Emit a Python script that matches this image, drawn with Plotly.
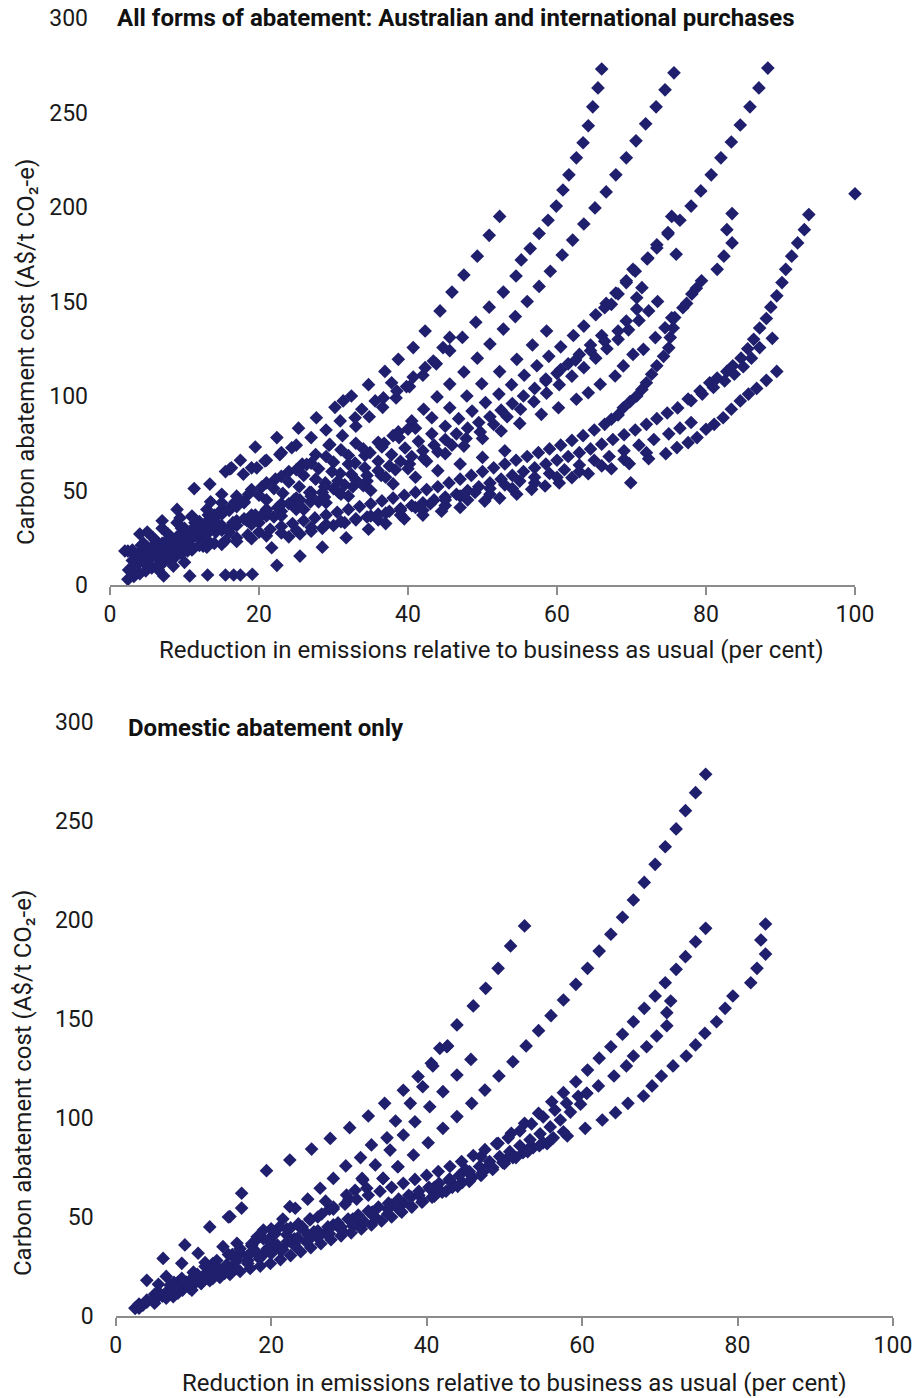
import plotly.graph_objects as go

# ---------------- TOP PANEL: all forms of abatement ----------------
top_A = [(2.4,18),(4.2,21),(6.0,24),(7.8,27),(9.6,30),(11.4,33),(13.2,37),(15.0,40),(16.8,44),(18.6,48),
         (20.4,52),(22.2,56),(24.0,60),(25.8,64),(27.6,69),(29.4,74),(31.2,79),(33.0,84),(34.8,89),(36.6,94),
         (38.4,99),(40.2,105),(42.0,111),(43.8,117),(45.6,124),(47.3,131),(49.1,139),(50.9,147),(52.8,155),
         (54.5,163.5),(55.2,172),(56.4,178),(57.6,186),(58.8,193),(59.9,200.5),(60.8,209),(61.6,217),(62.6,226),
         (63.5,234),(64.2,243),(64.8,253),(65.5,263),(66.0,273)]
top_A2 = [(19,62),(21,66),(23,70),(25,74),(27,78),(29,82),(30.9,86.8),(32.9,88.5),(33.8,93),(35.6,97.4),
          (36.7,99),(37.8,107),(38.5,102.6),(39.8,105),(40.7,110),(42.3,115),(43.4,118.5),(44.7,125.6),(45.6,131)]
top_B = [(5,28),(7,34),(9,40),(11.3,51),(13.4,53.4),(15.5,60),(17.5,66),(19.5,73),(22.4,78),(25.3,83),
         (27.7,88.5),(30.2,94),(32.4,100),(34.7,106),(36.9,113),(38.7,119.4),(40.7,125.6),(42.3,134.4),
         (44.3,145),(45.9,155),(47.5,164),(49.3,174),(50.9,185),(52.3,195)]
top_C = [(4,17),(6,19),(8,21),(10,23),(12.1,25.5),(14.2,28),(16.3,31),(18.4,34),(20.5,37.5),(22.6,41),
         (24.7,45),(26.8,49),(28.9,54),(30.9,59),(32.9,64.5),(34.9,70),(36.8,75),(38.7,81),(40.5,86.8),
         (42.1,93),(43.9,99.5),(45.6,106.3),(47.5,112.7),(49.3,120),(51,127.5),(52.8,135.4),(54.4,142),
         (56,150),(57.6,158),(59.1,166),(60.7,174.6),(62.1,182.5),(63.6,191),(65.1,199.5),(66.6,208),
         (67.9,217),(69.3,226),(70.6,235),(71.9,244),(73.3,253),(74.5,262),(75.7,271)]
top_P = [(21,45),(23.2,48.5),(25.4,52),(27.6,56),(29.8,60),(32,64),(34.2,68.5),(36.5,73),(38.8,78),(41,83),
         (43.2,88.5),(45.6,93.8),(47.9,100),(49.9,106.5),(52.3,112.9),(54.6,119.4),(56.7,127),(58.6,134.4)]
top_D = [(5,20),(7,22),(9,24),(11,26.5),(13,29),(15,31.5),(17,34),(19,37),(21,40),(23,43),(25,46),(27,49),
         (28.8,52),(30.6,55),(32.4,58.5),(34.2,62),(36,65.5),(37.8,69),(39.6,72.5),(41.4,76),(43.2,80),(45,84),
         (46.8,88),(48.6,92),(50.4,96.5),(52.2,101),(53.9,106),(55.6,111),(57.3,116),(58.9,121),(60.5,126),
         (62.2,132),(63.6,137),(65.2,143),(66.6,149),(67.9,154.5),(69.3,160),(70.5,166),(72.1,172.5),
         (73.4,178.3),(74.9,185.7),(76.5,193),(78,200.5),(79.3,208.5),(80.7,217),(82,226),(83.4,234.4),
         (84.6,243.4),(85.9,253),(87.1,263),(88.3,273.5)]
top_D2 = [(3,17),(5,19),(7,21),(9,23),(11,25),(13,27),(15,29),(17,31.5),(19,34),(21,36.5),(23,39),(25,41.5),
          (26.9,44),(28.8,46.5),(30.7,49),(32.6,52),(34.5,55),(36.4,58),(38.3,61),(40.2,64),(42.1,67),(44,70.5),
          (45.9,74),(47.8,77.5),(49.7,81),(51.5,85),(53.3,89),(55.1,93),(56.9,97),(58.6,101.5),(60.3,106),
          (62,110.5),(63.6,115),(65.2,120),(66.7,125),(68.2,130),(69.6,135),(71,140),(72.3,145),(73.5,150)]
top_D3 = [(3,18.5),(4.5,20),(6,21.5),(7.5,23),(9,24.5),(10.5,26),(12,27.5),(13.5,29),(15,31),(16.5,33),
          (18,35),(19.5,37),(21,39),(22.5,41),(24,43),(25.5,45),(27,47),(28.5,49),(30,51),(31.5,53),(33,55.5),
          (34.5,58),(36,60.5),(37.5,63),(39,65.5),(40.5,68),(42,71),(43.5,74),(45,77),(46.5,80),(48,83),
          (49.5,86),(51,89),(52.5,92.5),(54,96),(55.5,100),(57,104),(58.5,108),(60,112),(61.5,117),(63,122),
          (64.5,127),(66,132)]
top_U1 = [(8,26),(10,30),(12,33.5),(14,37),(16,40.5),(18,44),(20,47.5),(22,51),(24,54.5),(26,58),(28,61.5),
          (30,65),(32,68.5),(34,72),(36,75.5),(38,79),(40,82.5)]
top_U2 = [(9,33),(11,36.5),(13,40),(15,43.5),(17,47),(19,50.5),(21,54),(23,57.5),(25,61),(27,64.5),(29,68),
          (31,71.5),(33,75)]
top_U3 = [(20,33),(23,36.5),(26,40),(29,43.5),(32,47),(35,50),(38,53.5),(41,57),(44,60.5),(47,64),(50,67.5),
          (53,71)]
top_Q = [(58.5,109),(60.5,114),(62.5,119),(64.5,124),(66.4,129),(68.2,134.4),(69.3,139.7),(70.7,146),(70.7,152)]
top_R = [(10,20),(13,24),(16,28),(19,32),(22,36),(25,40),(28,44),(31,48),(34,52.5),(37,57),(40,61.5),
         (42.5,65.5),(45,69.5),(47.5,73.5),(50,77.5),(52.5,81.5),(55,85.5),(57.9,90.3),(60.2,93.8),(62.6,98.3),
         (64.2,101.7),(65.8,106.2),(67.8,110.6),(68.9,115.9),(70.2,122),(71.6,124.7),(73.2,130.9),(74.5,136.1),
         (75.4,141.4)]
top_J = [(66.4,146.7),(67.3,148.5),(68.2,154),(69.3,161),(70.2,167),(71.4,157.3),(72.2,173),(73.4,180),
         (74.9,186.5),(75.4,195),(76.0,175)]
top_H = [(81.5,167),(82.4,174),(83.5,181),(82.8,188),(83.5,196.5)]
top_N = [(3.5,11),(5,13),(6.5,14.5),(8,16),(9.5,17.5),(11,19),(12.5,20.5),(14,22),(15.5,23.5),(17,25),
         (18.5,26.5),(20,28),(21.5,29.5),(23,31),(24.5,32.5),(26,34),(27.5,35.5),(29,37),(30.5,38.5),(32,40),
         (33.5,41.5),(35,43),(36.5,44.5),(38,46),(39.5,47.5),(41,49),(42.5,50.5),(44,52),(45.5,54),(47,56),
         (48.5,58),(50,60),(51.5,62),(53,64),(54.5,66),(56,68),(57.5,70),(59,72),(60.5,74),(62,76.5),(63.5,79),
         (65,82),(66.4,85),(67.3,87.7),(68.2,90),(68.9,93.8),(69.8,97),(70.7,100),(71.4,103.5),(72,107),
         (72.7,111.5),(73.4,116),(74.3,121),(75,125.5),(75.2,131),(75.6,136),(75.8,141.5),(76.9,146.7),
         (77.4,149),(78.1,154),(78.7,157),(79.4,161)]
top_F = [(24,25.5),(25.5,27),(27,28.5),(28.5,30),(30,31.5),(31.5,33),(33,34.5),(34.5,36),(36,37.5),(37.5,39),
         (39,40.5),(40.5,42),(42,43.5),(43.5,45),(45,46.5),(46.5,48),(48,50),(49.5,52),(51,54),(52.5,56),
         (54,58),(55.5,60),(57,62),(58.5,64),(60,66),(61.5,68),(63,70),(64.5,72),(66,74.5),(67.5,77),(69,79.5),
         (70.5,82),(72,85),(73.4,88),(74.8,91),(76.2,93.7),(77.6,98.4),(79.2,102.6),(80.5,107),(81.5,109.5),
         (82.8,113),(83.6,116),(84.7,120),(85.6,125),(86.4,130),(87.2,136),(88.1,141),(88.7,147),(89.5,153),
         (90.2,160),(90.7,167),(91.5,174),(92.3,181),(93.2,188),(93.8,196)]
top_K = [(78,97.5),(79.5,101),(81,104.5),(82.5,108),(83.8,111.5),(85,115.5),(86.1,120),(87.2,125.6),(88.9,130.5)]
top_L = [(5,13),(7,15),(9,17),(11,18.5),(13,20),(15,21.5),(17,23),(19,24.5),(21,26),(23,27.5),(25,29),
         (27,30.5),(29,32),(31,33.5),(33,35),(35,36.5),(37,38),(39,39.5),(41,41),(43,43),(45,45),(47,47),
         (49,49),(51,51),(53,53),(55,55),(57,57),(59,59),(61,61),(63,63.5),(65,66),(67,68),(69,71),(71,74),
         (73,77),(75,80),(76.5,83),(78,86)]
top_E = [(36,34.5),(39,37),(42,39.5),(45,42),(48,45),(51,48),(54,51),(57,54),(60,57),(63,60),(66,63),
         (69,66.5),(72,70)]
top_G = [(22.4,10.4),(25.5,15.3),(28.5,20),(31.7,25),(34.7,29.5),(37,32.5),(39.5,35),(42,37),(44.5,39),
         (47,41),(50.3,44.4),(52.3,46),(54.6,48),(56.6,50.6),(58.4,52.4),(60.3,54),(62,56.8),(64.2,58.9),
         (67.3,61.5),(69.7,64.2),(72.3,66.8),(74.6,69.5),(76.1,72.7),(77.6,75.3),(78.8,78),(80,82.4),(81.1,85),
         (82.3,88.5),(83.4,93),(84.6,97.4),(85.7,101),(86.8,104),(88.1,108.3),(89.5,113)]
top_S = [(2.4,3),(3.2,4.5),(4,6),(4.8,7.5),(5.6,9),(6.4,10.5),(7.2,12),(8,13.5),(8.8,15),(9.6,16.5),
         (10.4,18),(11.2,19.5),(12,21)]
top_S2 = [(2.5,8),(3.5,10),(4.5,12),(5.5,14),(6.5,16),(7.5,18),(8.5,20),(9.5,22),(10.5,24),(11.5,26),
          (12.5,28),(13.5,30),(14.5,32)]
top_S3 = [(3,13),(4,15),(5,17),(6,19.5),(7,21.5),(8,23.5),(9,25.5),(10,27.5),(11,29.5),(12,31.5),(13,33.5),
          (14,35.5),(15,37.5),(16,39.5),(17,41.5),(18,43.5)]
top_extra = [(7.2,4.8),(10.7,4.8),(13.1,5.3),(15.5,5.3),(16.6,5.3),(17.5,5.3),(19.1,5.7),(21.7,19.7),
             (69.9,54.1),(100,207),(16.1,61.4),(17.9,58.6),(16.3,62),(19.7,62),(20.8,65.6),(22.8,69),
             (24.4,72.6),(26.4,63.8),(29.5,74.4),(31.3,97.4),(4,27),(5.8,25),(9.4,35.5),(2,18),
             (6.5,8),(8.5,10),(10,12),(12,28),(14,32),(4.5,22),(7,30),(11,36),(13.5,44),(15,48)]

# ---------------- BOTTOM PANEL: domestic abatement only ----------------
bot_A = [(2.5,4),(4,18),(6.1,29.1),(8.9,35.9),(12.1,45),(14.5,50),(16.2,62),(19.4,73.4),(22.4,78.8),
         (25.2,84.3),(27.6,89.7),(30.1,95.1),(32.5,101),(34.6,107.4),(37,114),(38.9,120.9),(40.6,127.6),
         (41.7,135.2),(42.6,136),(43.9,147),(46,156.6),(47.6,165.5),(49.2,175.6),(50.8,186.9),(52.6,197)]
bot_B = [(3,5),(5,11),(7.5,17),(10,22),(12.5,26.5),(15,31),(17.5,35.5),(20,40),(22.5,44.5),(25,49),
         (27.5,54),(30,59),(32.3,64.5),(34.4,69.5),(36.3,75.4),(38.3,81.3),(40.2,87.5),(42.1,94.8),
         (43.9,100.7),(45.8,107.4),(47.5,114.1),(49.3,121.2),(51.1,128.4),(52.8,136.4),(54.4,144.1),
         (56,151.7),(57.6,159.6),(59.2,167.5),(60.7,175.6),(62.2,184.3),(63.7,192.8),(65.2,201.4),
         (66.6,210.1),(68,219),(69.4,228.1),(70.7,237),(72.1,246),(73.3,255.2),(74.6,264.3),(75.9,273.6)]
bot_X = [(20,37),(22,41),(24,45),(26,50),(28,55),(29.7,61.1),(31.8,68.7),(33.4,76.3),(35.3,83.8),(37,91.4),
         (38.5,98.1),(40.4,105.7),(42.1,113.3),(43.9,121.7),(45.7,129.6)]
bot_Y = [(16,32),(18,38),(20,44),(21.5,49),(23.1,54.4),(24.7,59),(26.3,64.5),(28,69.5),(29.6,75.8),
         (31.5,80),(32.9,86.4),(34.9,90),(36,98.5),(37.9,107.4),(39.5,115.8),(40.8,126.3),(42.7,136.4)]
bot_C = [(3,4),(5,8),(7,12),(9,15.5),(11,19),(13,22),(15,25),(17,28),(19,31),(21,34),(23,36.5),(25,39),
         (27,42),(29,45),(31,48),(33,51),(35,54),(37,57),(39,61),(41,65),(43,69),(45,74),(47,80.5),
         (49.2,87.2),(50.9,92.3),(52.6,97.3),(54.4,102.4),(56.1,108.2),(57.6,112.8),(59.2,118.3),
         (60.7,124.2),(62.2,130.2),(63.7,136),(65.2,142.3),(66.6,148.6),(68,155.4),(69.4,161.6),
         (70.7,168.3),(72.1,175.1),(73.3,181.5),(74.6,189),(75.9,195.8)]
bot_D = [(3,6),(5.5,12),(8,17),(10.5,21),(13,25),(15.5,28.5),(18,32),(20.5,35.5),(23,39),(25.5,42.5),
         (28,46),(30.5,49),(33,52.5),(35.5,56),(38,60),(40.5,64),(43,68),(45.5,72),(48,76),(50.5,80),
         (53,84),(55.5,87),(58.1,90.9),(60.4,94.8),(62.6,99),(64.3,102.7),(65.9,107.4),(67.9,111.1),
         (69,116.2),(70.2,121.2),(71.7,126.3),(73.4,131.3),(74.6,136.9),(75.8,142.8),(77.3,148.6),
         (78.4,155.4),(79.4,161.6),(81.7,168.3),(82.5,175.6),(83.6,182.8),(83,189.9),(83.6,198)]
bot_E = [(60.6,112.5),(62.1,116.2),(64.1,121.2),(65.7,126.3),(66.6,131.3),(68.3,136),(69.6,141.4),
         (70.9,146.6),(70.9,153.2),(71.4,159.1)]
bot_band1 = [(2.5,3.9),(3.5,5.5),(4.8,8.1),(6,10),(7.4,11.5),(8.6,13.1),(9.8,15),(11,16.5),(12.1,17.8),
             (13.4,19.5),(14.7,21),(16,22.5),(17.3,24),(18.6,25.2),(19.9,26.5),(21.2,28.5),(22.5,30.5),
             (23.8,32.5),(25.1,34.5),(26.4,36.5),(27.7,38.5),(29,40.5),(30.3,42),(31.6,44),(32.9,46),
             (34.2,48),(35.5,50),(36.8,52.5),(38.1,55),(39.4,57.5),(40.7,60),(42,62.5),(43.3,65),(44.6,67.5),
             (45.9,70),(47.2,72.5),(48.5,75),(49.8,77.5),(51.1,80),(52.4,82.5),(53.7,85),(55,87.5),
             (56.3,90),(57.6,93)]
bot_band2 = [(3,5),(4,7),(5.2,9.5),(6.5,12),(7.8,14.5),(9.1,17),(10.4,19.5),(11.7,22),(13,24),(14.3,26),
             (15.6,28),(16.9,30),(18.2,32),(19.5,34),(20.8,35.8),(22.1,37.6),(23.4,39.4),(24.7,41.2),(26,43),
             (27.3,45),(28.6,47),(29.9,49),(31.2,51),(32.5,53),(33.8,55),(35.1,57),(36.4,59),(37.7,61),
             (39,63),(40.3,65),(41.6,67),(42.9,69),(44.2,71),(45.5,73),(46.8,75.5),(48.1,78),(49.4,80.5),
             (50.7,83),(52,86),(53.3,89),(54.6,92),(55.9,95.5),(57.2,99),(58.5,103),(59.8,107)]
bot_band3 = [(4,8),(5.5,12),(7,15.5),(8.5,19),(10,22),(11.5,25),(13,28),(14.5,31),(16,34),(17.5,36.5),
             (19,39),(20.5,41.5),(22,44),(23.5,46.5),(25,49),(26.5,51.5),(28,54),(29.5,56.5),(31,59),
             (32.5,61),(34,63),(35.5,65),(37,67),(38.5,69),(40,71),(41.5,73),(43,75.5),(44.5,78),(46,81),
             (47.5,84),(49,87),(50.5,90),(52,93.5),(53.5,97),(55,100.5),(56.5,104),(58,107.5),(59.5,111),
             (60.6,112.5)]
bot_band4 = [(5,6.5),(6.5,9),(8,11.5),(9.5,14),(11,16.5),(12.5,19),(14,21.5),(15.5,24),(17,26.5),(18.5,29),
             (20,31.5),(21.5,33.5),(23,35.5),(24.5,37.5),(26,39.5),(27.5,41.5),(29,43.5),(30.5,45.5),
             (32,47.5),(33.5,49.5),(35,51.5),(36.5,53.5),(38,55.5),(39.5,58),(41,60.5),(42.5,63),(44,65.5),
             (45.5,68),(47,71),(48.5,74),(50,77),(51.5,80),(53,83),(54.5,86),(56,89)]
bot_extra = [(8.5,26.6),(10.6,31.7),(9.8,19),(13.8,35),(15.6,36.7),(17.3,31.7),(12.1,21.6),(14.3,24.9),
             (19,43.4),(21.1,45.1),(22.4,55.2),(25,48.5),(16.2,54.5),(14.7,50.2),(6.5,20),(5.5,16),
             (7.4,9.7),(9.8,13.1),(7.8,13.1),(11.5,27),(18.2,40),(23.8,44.5),(27,58),(30.8,63.5),
             (31.7,69.5),(34.4,69.5),(36.3,75.4)]

x_ticks = [0, 20, 40, 60, 80, 100]
y_ticks = [0, 50, 100, 150, 200, 250, 300]

top_series = [top_A, top_A2, top_B, top_C, top_P, top_D, top_D2, top_D3, top_U1, top_U2, top_U3, top_Q,
              top_R, top_J, top_H, top_N, top_F, top_K, top_L, top_E, top_G, top_S, top_S2, top_S3, top_extra]
bot_series = [bot_A, bot_B, bot_X, bot_Y, bot_C, bot_D, bot_E, bot_band1, bot_band2, bot_band3, bot_band4,
              bot_extra]

MARKER_COLOR = "#1f1f6e"
FONT = "Roboto"
W, H = 920, 1398


def px_x(p):
    return p / W


def px_y(p):
    return 1 - p / H


fig = go.Figure()
for s in top_series:
    fig.add_trace(go.Scatter(x=[p[0] for p in s], y=[p[1] for p in s], mode="markers",
                             marker=dict(symbol="diamond", size=10.5, color=MARKER_COLOR, line=dict(width=0)),
                             cliponaxis=False, showlegend=False, hoverinfo="skip",
                             xaxis="x", yaxis="y"))
for s in bot_series:
    fig.add_trace(go.Scatter(x=[p[0] for p in s], y=[p[1] for p in s], mode="markers",
                             marker=dict(symbol="diamond", size=10.5, color=MARKER_COLOR, line=dict(width=0)),
                             cliponaxis=False, showlegend=False, hoverinfo="skip",
                             xaxis="x2", yaxis="y2"))

xa = dict(range=[0, 100], tickvals=x_ticks, showline=True, linecolor="#8c8c8c", linewidth=1.5,
          ticks="outside", ticklen=8, tickwidth=1.5, tickcolor="#8c8c8c", showgrid=False, zeroline=False,
          automargin=False, tickfont=dict(family=FONT, size=23, color="#1a1a1a"), fixedrange=True)
ya = dict(range=[0, 300], tickvals=y_ticks, showline=False, ticks="", showgrid=False, zeroline=False,
          automargin=False, ticklabelstandoff=21, tickfont=dict(family=FONT, size=23, color="#1a1a1a"),
          fixedrange=True)

fig.update_layout(
    width=W, height=H, autosize=False,
    margin=dict(l=0, r=0, t=0, b=0, pad=0, autoexpand=False),
    paper_bgcolor="white", plot_bgcolor="white", showlegend=False,
    xaxis=dict(xa, domain=[px_x(110), px_x(855)], anchor="y"),
    yaxis=dict(ya, domain=[px_y(585), px_y(18)], anchor="x"),
    xaxis2=dict(xa, domain=[px_x(115.7), px_x(893)], anchor="y2"),
    yaxis2=dict(ya, domain=[px_y(1316), px_y(722)], anchor="x2"),
)

title_font = dict(family=FONT, size=24, color="#111111")
axis_font = dict(family=FONT, size=24, color="#1a1a1a")
ytitle = "Carbon abatement cost (A$/t CO\u2082-e)"
xtitle = "Reduction in emissions relative to business as usual (per cent)"
annos = [
    dict(text="<b>All forms of abatement: Australian and international purchases</b>",
         x=px_x(115), y=px_y(18), xanchor="left", yanchor="middle", font=title_font),
    dict(text="<b>Domestic abatement only</b>",
         x=px_x(126), y=px_y(728), xanchor="left", yanchor="middle", font=title_font),
    dict(text=xtitle, x=px_x(491), y=px_y(650), xanchor="center", yanchor="middle", font=axis_font),
    dict(text=xtitle, x=px_x(514), y=px_y(1383), xanchor="center", yanchor="middle", font=axis_font),
    dict(text=ytitle, x=px_x(26), y=px_y(352), xanchor="center", yanchor="middle", textangle=-90, font=axis_font),
    dict(text=ytitle, x=px_x(23), y=px_y(1083), xanchor="center", yanchor="middle", textangle=-90, font=axis_font),
]
for a in annos:
    a.update(xref="paper", yref="paper", showarrow=False)
fig.update_layout(annotations=annos)

fig.write_html(
    "out.html",
    config={"displayModeBar": False, "responsive": False},
    post_script="document.documentElement.style.margin='0';document.body.style.margin='0';"
                "document.body.style.padding='0';document.body.style.overflow='hidden';",
)
